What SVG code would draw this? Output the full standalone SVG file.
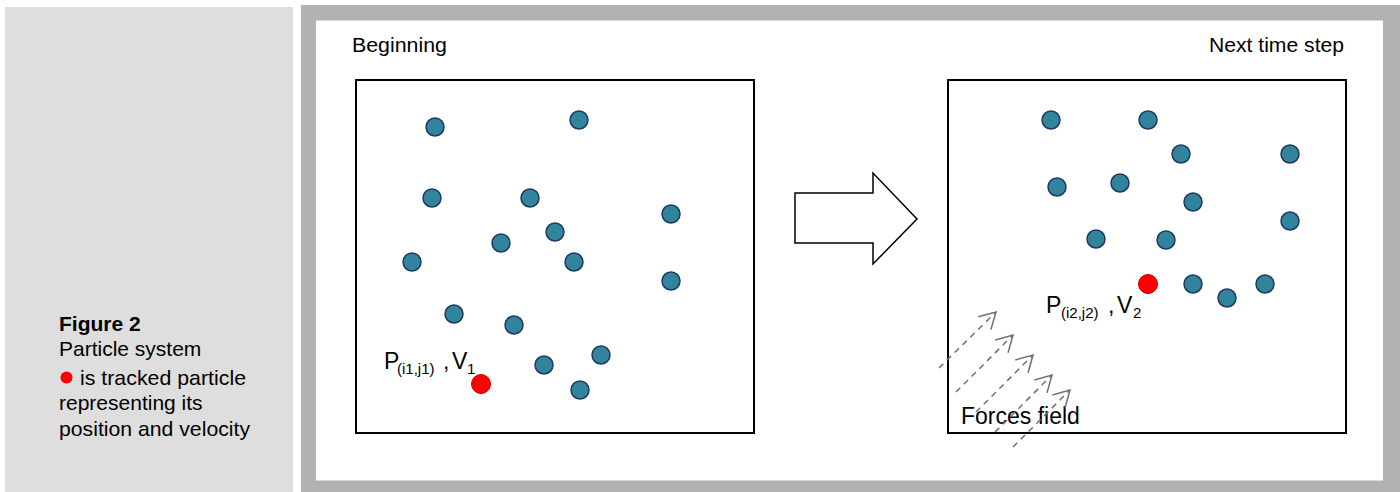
<svg xmlns="http://www.w3.org/2000/svg" width="1400" height="492" viewBox="0 0 1400 492">
<style>
text{font-family:"Liberation Sans",Arial,sans-serif;fill:#000}
.cap{font-size:21px}
.lbl{font-size:20px}
.big{font-size:23px}
.sub{font-size:15px}
.box{fill:none;stroke:#000;stroke-width:2}
.p{fill:#31849b;stroke:#1f3864;stroke-width:1.5}
.t{fill:#ff0000;stroke:#c00000;stroke-width:1}
.f{stroke:#707070;stroke-width:1.5;stroke-dasharray:6 5;fill:none;marker-end:url(#oh)}
</style>
<defs>
<marker id="oh" markerUnits="userSpaceOnUse" markerWidth="20" markerHeight="20" refX="18" refY="10" orient="auto" viewBox="0 0 20 20">
<path d="M2,1 L18,10 L2,19" fill="none" stroke="#707070" stroke-width="1.5"/>
</marker>
</defs>
<rect x="0" y="0" width="1400" height="492" fill="#fff"/>
<g id="caption">
<rect x="5" y="7" width="288" height="485" fill="#dedede"/>
<text x="59" y="331" class="cap" font-weight="bold">Figure 2</text>
<text x="59" y="356" class="cap">Particle system</text>
<circle cx="66.5" cy="377.5" r="6" fill="#ff0000"/>
<text x="80" y="385" class="cap" textLength="166" lengthAdjust="spacingAndGlyphs">is tracked particle</text>
<text x="59" y="410" class="cap">representing its</text>
<text x="59" y="436" class="cap" textLength="191" lengthAdjust="spacingAndGlyphs">position and velocity</text>
</g>
<g id="frame">
<rect x="301" y="5" width="1099" height="487" fill="#b2b2b2"/>
<rect x="316" y="20.5" width="1067" height="460" fill="#fff"/>
<text x="352" y="52" class="lbl" textLength="95" lengthAdjust="spacingAndGlyphs">Beginning</text>
<text x="1209" y="52" class="lbl" textLength="135" lengthAdjust="spacingAndGlyphs">Next time step</text>
</g>
<g id="beginning">
<rect x="356" y="80" width="398" height="353" class="box"/>
<circle class="p" cx="435" cy="127" r="9"/>
<circle class="p" cx="579" cy="120" r="9"/>
<circle class="p" cx="432" cy="198" r="9"/>
<circle class="p" cx="530" cy="198" r="9"/>
<circle class="p" cx="671" cy="214" r="9"/>
<circle class="p" cx="501" cy="243" r="9"/>
<circle class="p" cx="555" cy="232" r="9"/>
<circle class="p" cx="412" cy="262" r="9"/>
<circle class="p" cx="574" cy="262" r="9"/>
<circle class="p" cx="671" cy="281" r="9"/>
<circle class="p" cx="454" cy="314" r="9"/>
<circle class="p" cx="514" cy="325" r="9"/>
<circle class="p" cx="601" cy="355" r="9"/>
<circle class="p" cx="544" cy="365" r="9"/>
<circle class="p" cx="580" cy="390" r="9"/>
<circle class="t" cx="481" cy="384" r="9.5"/>
<text y="369" class="big"><tspan x="384">P</tspan><tspan x="397" dy="5" class="sub">(i1,j1)</tspan><tspan x="443" dy="-5">,</tspan><tspan x="452">V</tspan><tspan x="467" dy="5" class="sub">1</tspan></text>
</g>
<g id="next">
<rect x="948" y="80" width="398" height="353" class="box"/>
<circle class="p" cx="1051" cy="120" r="9"/>
<circle class="p" cx="1148" cy="120" r="9"/>
<circle class="p" cx="1181" cy="154" r="9"/>
<circle class="p" cx="1290" cy="154" r="9"/>
<circle class="p" cx="1057" cy="187" r="9"/>
<circle class="p" cx="1120" cy="183" r="9"/>
<circle class="p" cx="1193" cy="202" r="9"/>
<circle class="p" cx="1290" cy="221" r="9"/>
<circle class="p" cx="1096" cy="239" r="9"/>
<circle class="p" cx="1166" cy="240" r="9"/>
<circle class="p" cx="1193" cy="284" r="9"/>
<circle class="p" cx="1227" cy="298" r="9"/>
<circle class="p" cx="1265" cy="284" r="9"/>
<circle class="t" cx="1148" cy="284" r="9.5"/>
<text y="313" class="big"><tspan x="1046">P</tspan><tspan x="1061" dy="5" class="sub">(i2,j2)</tspan><tspan x="1108" dy="-5">,</tspan><tspan x="1117">V</tspan><tspan x="1133" dy="5" class="sub">2</tspan></text>
<text x="961" y="424" class="big">Forces field</text>
</g>
<g id="connectors">
<polygon id="step-arrow" points="795,193 873,193 873,173 917,219 873,264 873,243 795,243" fill="#fff" stroke="#000" stroke-width="1.5"/>
<line class="f" x1="939" y1="368" x2="996" y2="312"/>
<line class="f" x1="956" y1="392" x2="1013" y2="335"/>
<line class="f" x1="976" y1="412" x2="1033" y2="355"/>
<line class="f" x1="995" y1="432" x2="1052" y2="375"/>
<line class="f" x1="1013" y1="447" x2="1070" y2="390"/>
</g>
</svg>
